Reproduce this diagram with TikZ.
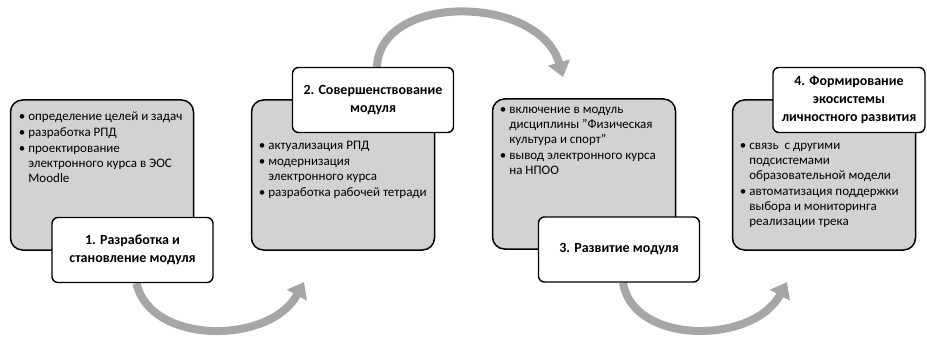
\documentclass[tikz,border=0pt]{standalone}
\usepackage{fontspec}
\setmainfont{Carlito}
\usepackage{tikz}
\usetikzlibrary{arrows.meta,positioning,backgrounds}
\definecolor{panelgray}{RGB}{210,210,210}
\definecolor{arcgray}{RGB}{166,166,166}
\tikzset{
  panel/.style={draw=black,line width=1.5pt,fill=panelgray,rounded corners=12pt,
    minimum width=183pt,minimum height=150pt,inner sep=0pt},
  stage/.style={draw=black,line width=1.4pt,fill=white,rounded corners=6pt,
    minimum width=161pt,minimum height=65pt,inner sep=2pt,align=center,
    font=\fontsize{14}{18}\selectfont\bfseries},
  bullets/.style={anchor=north west,inner sep=0pt,align=left,
    font=\fontsize{13}{15}\selectfont},
  flow/.style={draw=arcgray,line width=8pt,-{Triangle[width=22pt,length=15pt]}}
}
\newcommand{\bul}{\textbullet\ }
\newcommand{\ind}{\hphantom{\textbullet\ }}

\begin{document}
\begin{tikzpicture}[x=1pt,y=-1pt]
  \useasboundingbox (0,0) rectangle (927,337);
  % --- grey panels (one per stage) ---
  \node[panel] (g1) at (102,175) {};
  \node[panel] (g2) at (343,175) {};
  \node[panel] (g3) at (584,174) {};
  \node[panel] (g4) at (824,175) {};
  % --- panel texts ---
  \node[bullets] (b1) at ([xshift=9pt,yshift=-12pt]g1.north west)
    {\bul определение целей и задач\\[1pt]
     \bul разработка РПД\\[1pt]
     \bul проектирование\\
     \ind электронного курса в ЭОС\\
     \ind Moodle};
  \node[bullets] (b2) at ([xshift=8pt,yshift=-42pt]g2.north west)
    {\bul актуализация РПД\\[1pt]
     \bul модернизация\\
     \ind электронного курса\\[1pt]
     \bul разработка рабочей тетради};
  \node[bullets] (b3) at ([xshift=8pt,yshift=-9pt]g3.north west)
    {\bul включение в модуль\\
     \ind дисциплины \symbol{34}Физическая\\
     \ind культура и спорт\symbol{34}\\[1pt]
     \bul вывод электронного курса\\
     \ind на НПОО};
  \node[bullets] (b4) at ([xshift=8pt,yshift=-44pt]g4.north west)
    {\bul связь~ с другими\\
     \ind подсистемами\\
     \ind образовательной модели\\[1pt]
     \bul автоматизация поддержки\\
     \ind выбора и мониторинга\\
     \ind реализации трека};
  % --- stage labels ---
  \node[stage] (l1) at (132.5,250) {1. Разработка и\\становление модуля};
  \node[stage] (l2) at (373,100) {2. Совершенствование\\модуля};
  \node[stage] (l3) at (619,249.5) {3. Развитие модуля};
  \node[stage,minimum width=152pt] (l4) at (849,100) {4. Формирование\\экосистемы\\личностного развития};
  % --- curved arrows between stages ---
  \coordinate (t1) at (304,282);
  \coordinate (t2) at (563,77);
  \coordinate (t3) at (787,282);
  \begin{scope}[on background layer]
    \draw[flow] ([xshift=4pt]l1.south) .. controls (150,345) and (270,345) .. (t1);
    \draw[flow] ([xshift=4pt]l2.north) .. controls (380,-8) and (540,-5) .. (t2);
    \draw[flow] ([xshift=4pt]l3.south) .. controls (633,345) and (753,345) .. (t3);
  \end{scope}
\end{tikzpicture}
\end{document}
